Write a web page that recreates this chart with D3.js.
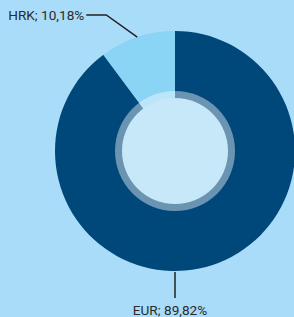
<!DOCTYPE html>
<html>
<head>
<meta charset="utf-8">
<script src="https://cdn.jsdelivr.net/npm/d3@7"></script>
<style>
  body { margin: 0; background: #a9dcf8; }
  svg { display: block; }
  .label { font-family: Roboto, "Noto Sans", sans-serif; font-size: 13.6px; fill: #2b2b2b; }
</style>
</head>
<body>
<div class="chart"></div>
<script>
// chart data
var currencies = ["EUR", "HRK"];
var shares = [89.82, 10.18];
var shareLabels = ["89,82%", "10,18%"];
var colors = ["#00477a", "#8ad5f5"];

var svgWidth = 294;
var svgHeight = 317;
var cx = 175, cy = 151;
var outerR = 120;

var svg = d3.select(".chart")
  .append("svg")
  .attr("width", svgWidth)
  .attr("height", svgHeight);

var data = currencies.map(function (c, i) {
  return { name: c, value: shares[i], label: c + "; " + shareLabels[i], color: colors[i] };
});

var pie = d3.pie()
  .sort(null)
  .value(d => d.value);

var arcs = pie(data);

var arc = d3.arc()
  .innerRadius(0)
  .outerRadius(outerR);

var chartGroup = svg.append("g")
  .attr("transform", `translate(${cx}, ${cy})`);

chartGroup.selectAll("path.slice")
  .data(arcs)
  .enter()
  .append("path")
  .attr("class", "slice")
  .attr("d", arc)
  .attr("fill", d => d.data.color);

// translucent ring and inner disc
chartGroup.append("circle")
  .attr("r", 60)
  .attr("fill", "#ffffff")
  .attr("fill-opacity", 0.42);

chartGroup.append("circle")
  .attr("r", 53)
  .attr("fill", "#c6e8f9");

// leader lines + labels
var eur = arcs[0], hrk = arcs[1];

// HRK: from mid-angle point on edge, up-left, then horizontal
var hMid = (hrk.startAngle + hrk.endAngle) / 2;
var hx = outerR * Math.sin(hMid), hy = -outerR * Math.cos(hMid);
var elbowX = hx - 31, elbowY = -136;
chartGroup.append("polyline")
  .attr("points", [[hx, hy], [elbowX, elbowY], [elbowX - 20, elbowY]].map(p => p.join(",")).join(" "))
  .attr("fill", "none")
  .attr("stroke", "#222")
  .attr("stroke-width", 1.5);
chartGroup.append("text")
  .attr("class", "label")
  .attr("x", elbowX - 22)
  .attr("y", elbowY)
  .attr("dy", "0.35em")
  .attr("text-anchor", "end")
  .text(hrk.data.label);

// EUR: straight down from the bottom of the ring
chartGroup.append("line")
  .attr("x1", 0).attr("y1", outerR + 1)
  .attr("x2", 0).attr("y2", outerR + 27)
  .attr("stroke", "#222")
  .attr("stroke-width", 1.5);
chartGroup.append("text")
  .attr("class", "label")
  .attr("x", -5)
  .attr("y", 164)
  .attr("text-anchor", "middle")
  .text(eur.data.label);
</script>
</body>
</html>
